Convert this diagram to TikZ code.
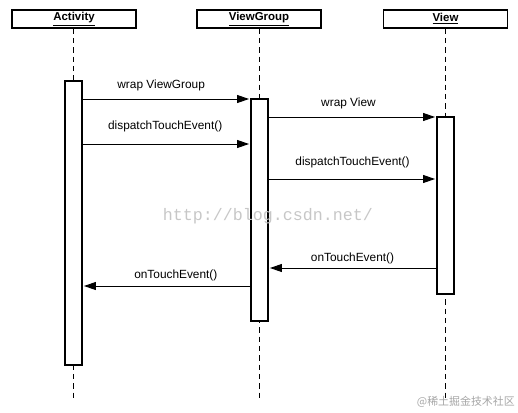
\documentclass[tikz,border=0pt]{standalone}
\usepackage{fontspec}
\setmainfont{Liberation Sans}
\setmonofont{Liberation Mono}
\newfontfamily\cjkfont{Noto Sans CJK SC}
\usetikzlibrary{arrows.meta}

\tikzset{
  obj/.style={draw, line width=0.9pt, fill=white, minimum width=93pt, minimum height=13.5pt,
              inner sep=0pt, font=\fontsize{8.6}{10}\selectfont\bfseries},
  act/.style={draw, line width=0.9pt, fill=white, minimum width=12.75pt, inner sep=0pt},
  life/.style={dashed, line width=0.75pt, dash pattern=on 4pt off 3pt},
  msg/.style={-{Triangle[length=9pt,width=6pt]}, line width=0.75pt, shorten >=1pt},
  lbl/.style={font=\fontsize{8.9}{10}\selectfont, inner sep=1pt}
}

\begin{document}
\begin{tikzpicture}[x=0.75pt,y=-0.75pt]
\useasboundingbox (0,0) rectangle (518,412);

% === OBJECTS ===
\node[obj] (activity)  at (74,19)    {\underline{Activity}};
\node[obj] (viewgroup) at (259,19)   {\underline{ViewGroup}};
\node[obj] (view)      at (445.5,19) {\underline{View}};

% === LIFELINES ===
\coordinate (endA)  at (73.5,400);
\coordinate (endVG) at (259.5,400);
\coordinate (endV)  at (445.5,400);
\draw[life] (activity.south -| endA) -- (endA);
\draw[life] (viewgroup.south -| endVG) -- (endVG);
\draw[life] (view.south -| endV) -- (endV);

% === ACTIVATIONS ===
\node[act, minimum height=213pt]    (actA)  at (73.5,223)  {};
\node[act, minimum height=166.5pt]  (actVG) at (259.5,210) {};
\node[act, minimum height=132.75pt] (actV)  at (445.5,205.5) {};

% === MESSAGES ===
\coordinate (m1) at (0,99);
\coordinate (m2) at (0,144);
\coordinate (m3) at (0,117);
\coordinate (m4) at (0,179);
\coordinate (m5) at (0,268);
\coordinate (m6) at (0,286);

\draw[msg] (actA.east |- m1) -- node[lbl, above=5pt, xshift=-4pt] {wrap ViewGroup} (actVG.west |- m1);
\draw[msg] (actA.east |- m2) -- node[lbl, above=8pt, xshift=-1pt] {dispatchTouchEvent()} (actVG.west |- m2);
\draw[msg] (actVG.east |- m3) -- node[lbl, above=5pt, xshift=-3pt] {wrap View} (actV.west |- m3);
\draw[msg] (actVG.east |- m4) -- node[lbl, above=7pt] {dispatchTouchEvent()} (actV.west |- m4);
\draw[msg] (actV.west |- m5) -- node[lbl, above=1.5pt] {onTouchEvent()} (actVG.east |- m5);
\draw[msg] (actVG.west |- m6) -- node[lbl, above=2.5pt, xshift=7pt] {onTouchEvent()} (actA.east |- m6);

% === WATERMARKS ===
\node[font=\ttfamily\fontsize{12.5}{14}\selectfont, black!22] (wm1) at (268,216) {http://blog.csdn.net/};
\node[font=\cjkfont\fontsize{8.2}{10}\selectfont, black!35, anchor=east, inner sep=0pt] (wm2) at (515,402) {@稀土掘金技术社区};

\end{tikzpicture}
\end{document}
